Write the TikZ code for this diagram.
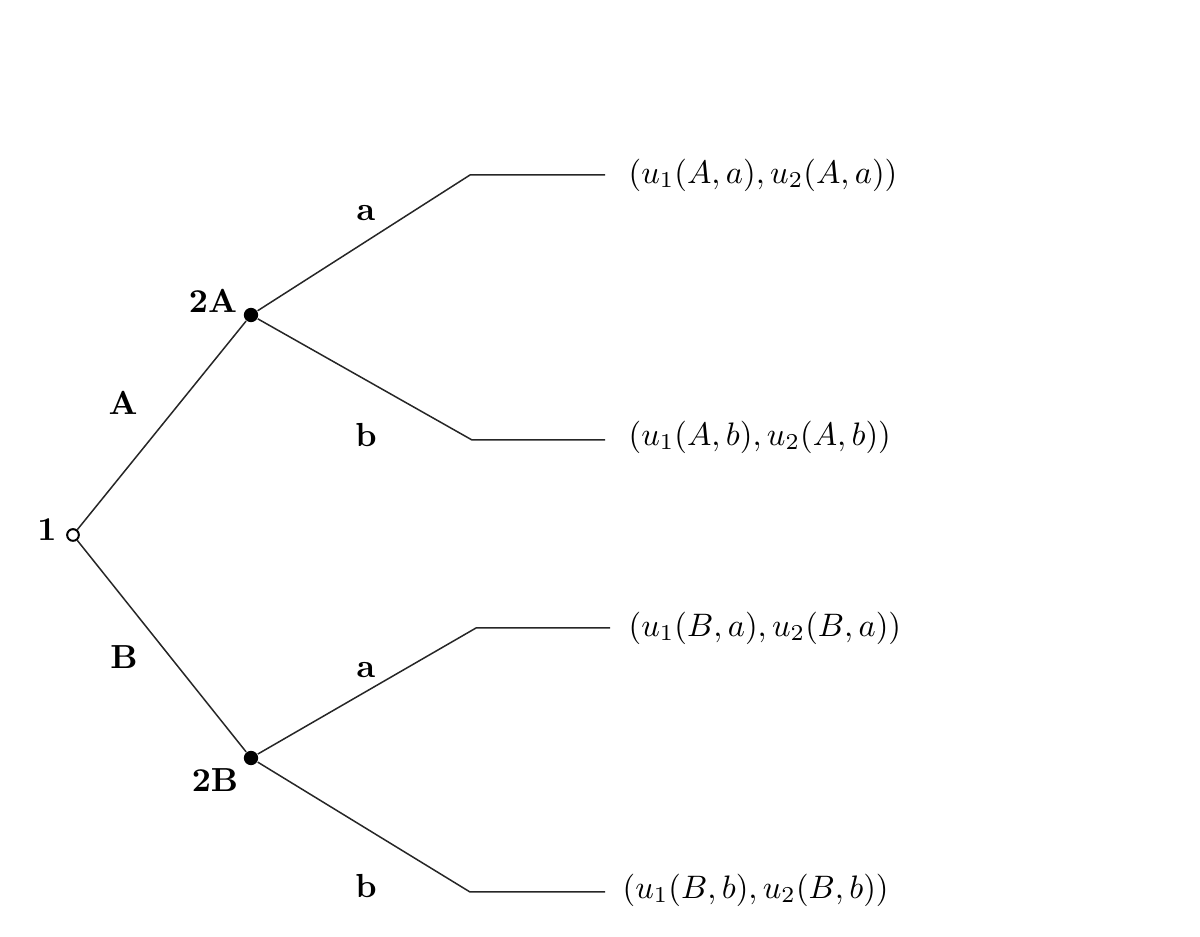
\documentclass[tikz,border=0pt]{standalone}
\begin{document}
\begin{tikzpicture}[x=0.3pt,y=-0.3pt,
  edge/.style={draw=black!85,line width=0.45pt},
  opendot/.style={circle,draw=black,line width=0.6pt,fill=white,inner sep=0pt,minimum size=3.5pt},
  fulldot/.style={circle,fill=black,inner sep=0pt,minimum size=4.3pt},
  lab/.style={font=\bfseries,inner sep=0pt},
  pay/.style={anchor=west,inner sep=0pt,scale=0.975}]
\useasboundingbox (0,0) rectangle (1200,937);
% decision nodes
\node[opendot] (r) at (73,535) {};
\node[fulldot] (nA) at (251,315) {};
\node[fulldot] (nB) at (251,758) {};
% terminal corners
\coordinate (tAa) at (470,175);  \coordinate (eAa) at (605,175);
\coordinate (tAb) at (472,440);  \coordinate (eAb) at (605,440);
\coordinate (tBa) at (476,628);  \coordinate (eBa) at (610,628);
\coordinate (tBb) at (470,892);  \coordinate (eBb) at (605,892);
% edges
\draw[edge] (r) -- (nA);
\draw[edge] (r) -- (nB);
\draw[edge] (nA) -- (tAa) -- (eAa);
\draw[edge] (nA) -- (tAb) -- (eAb);
\draw[edge] (nB) -- (tBa) -- (eBa);
\draw[edge] (nB) -- (tBb) -- (eBb);
% labels
\node[lab] (l1) at (47,530) {1};
\node[lab] (l2A) at (213,301) {2A};
\node[lab] (l2B) at (215,780) {2B};
\node[lab] (lA) at (123,403) {A};
\node[lab] (lB) at (124,657) {B};
\node[lab] (la1) at (366,213) {a};
\node[lab] (lb1) at (366,435) {b};
\node[lab] (la2) at (366,670) {a};
\node[lab] (lb2) at (366,886) {b};
% payoffs
\node[pay] (pAa) at (628,175) {$(u_1(A,a),u_2(A,a))$};
\node[pay] (pAb) at (628,437) {$(u_1(A,b),u_2(A,b))$};
\node[pay] (pBa) at (628,628) {$(u_1(B,a),u_2(B,a))$};
\node[pay] (pBb) at (622,890) {$(u_1(B,b),u_2(B,b))$};
\end{tikzpicture}
\end{document}
